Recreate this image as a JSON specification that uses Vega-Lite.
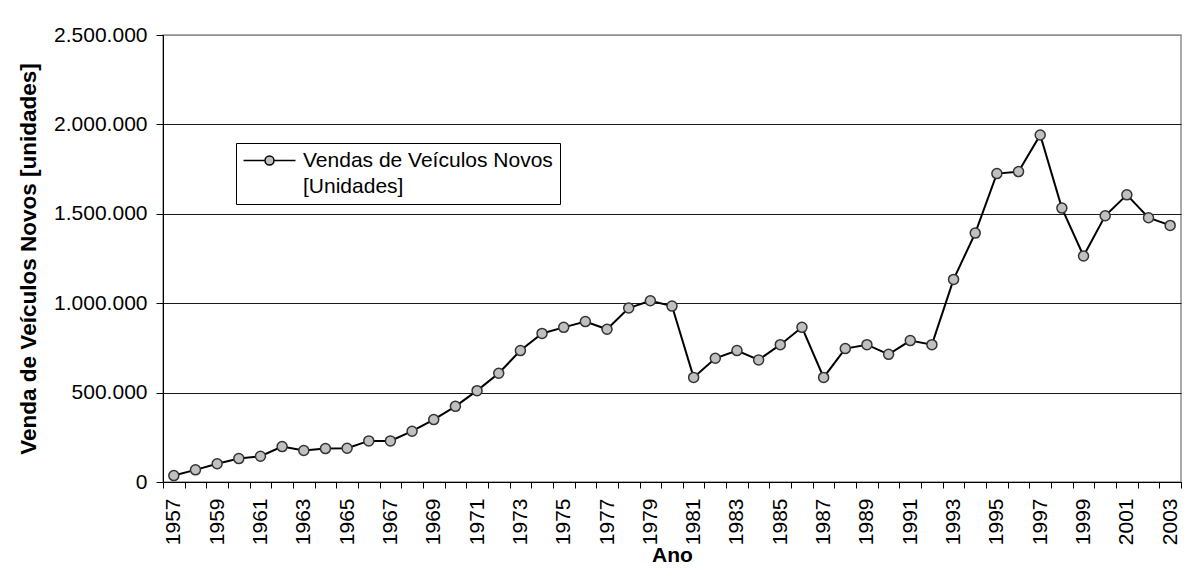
{
  "$schema": "https://vega.github.io/schema/vega-lite/v6.json",
  "width": 1018,
  "height": 447,
  "autosize": {"type": "none"},
  "padding": {"left": 163, "top": 35, "right": 19, "bottom": 88},
  "background": "white",
  "config": {
    "font": "Liberation Sans",
    "view": {"stroke": "#909090", "strokeWidth": 1.5},
    "axis": {"labelColor": "black", "titleColor": "black", "domainColor": "black", "tickColor": "black", "labelFont": "Liberation Sans", "titleFont": "Liberation Sans"}
  },
  "data": {
    "values": [
      {"ano": 1957, "vendas": 36000},
      {"ano": 1958, "vendas": 68000},
      {"ano": 1959, "vendas": 102000},
      {"ano": 1960, "vendas": 131000},
      {"ano": 1961, "vendas": 144000},
      {"ano": 1962, "vendas": 198000},
      {"ano": 1963, "vendas": 176000},
      {"ano": 1964, "vendas": 187000},
      {"ano": 1965, "vendas": 189000},
      {"ano": 1966, "vendas": 230000},
      {"ano": 1967, "vendas": 230000},
      {"ano": 1968, "vendas": 284000},
      {"ano": 1969, "vendas": 349000},
      {"ano": 1970, "vendas": 423000},
      {"ano": 1971, "vendas": 511000},
      {"ano": 1972, "vendas": 608000},
      {"ano": 1973, "vendas": 735000},
      {"ano": 1974, "vendas": 831000},
      {"ano": 1975, "vendas": 865000},
      {"ano": 1976, "vendas": 897000},
      {"ano": 1977, "vendas": 854000},
      {"ano": 1978, "vendas": 973000},
      {"ano": 1979, "vendas": 1014000},
      {"ano": 1980, "vendas": 984000},
      {"ano": 1981, "vendas": 585000},
      {"ano": 1982, "vendas": 692000},
      {"ano": 1983, "vendas": 735000},
      {"ano": 1984, "vendas": 683000},
      {"ano": 1985, "vendas": 768000},
      {"ano": 1986, "vendas": 865000},
      {"ano": 1987, "vendas": 585000},
      {"ano": 1988, "vendas": 746000},
      {"ano": 1989, "vendas": 768000},
      {"ano": 1990, "vendas": 714000},
      {"ano": 1991, "vendas": 791000},
      {"ano": 1992, "vendas": 768000},
      {"ano": 1993, "vendas": 1133000},
      {"ano": 1994, "vendas": 1392000},
      {"ano": 1995, "vendas": 1725000},
      {"ano": 1996, "vendas": 1736000},
      {"ano": 1997, "vendas": 1941000},
      {"ano": 1998, "vendas": 1532000},
      {"ano": 1999, "vendas": 1264000},
      {"ano": 2000, "vendas": 1489000},
      {"ano": 2001, "vendas": 1606000},
      {"ano": 2002, "vendas": 1478000},
      {"ano": 2003, "vendas": 1435000}
    ]
  },
  "encoding": {
    "x": {
      "field": "ano",
      "type": "ordinal",
      "bandPosition": 0.5,
      "scale": {"type": "band", "paddingInner": 0, "paddingOuter": 0},
      "axis": {
        "title": "Ano",
        "titleFontSize": 21,
        "titleFontWeight": "bold",
        "titlePadding": 0,
        "labelAngle": 270,
        "labelFontSize": 21,
        "labelPadding": 10,
        "tickSize": 6,
        "tickBand": "extent",
        "labelOverlap": false,
        "labelExpr": "(datum.value - 1957) % 2 == 0 ? '' + datum.value : ''",
        "grid": false
      }
    },
    "y": {
      "field": "vendas",
      "type": "quantitative",
      "scale": {"domain": [0, 2500000], "nice": false},
      "axis": {
        "title": "Venda de Veículos Novos [unidades]",
        "titleFontSize": 22.5,
        "titleFontWeight": "bold",
        "titlePadding": 13,
        "values": [0, 500000, 1000000, 1500000, 2000000, 2500000],
        "labelExpr": "replace(format(datum.value, ',d'), regexp(',', 'g'), '.')",
        "labelFontSize": 21,
        "labelPadding": 9,
        "tickSize": 7,
        "grid": true,
        "gridColor": {"condition": {"test": "datum.value >= 2500000", "value": "#909090"}, "value": "#1a1a1a"},
        "gridWidth": 1.2
      }
    }
  },
  "layer": [
    {
      "mark": {"type": "line", "strokeWidth": 2},
      "encoding": {
        "stroke": {
          "datum": "Vendas de Veículos Novos [Unidades]",
          "scale": {"range": ["black"]},
          "legend": {
            "title": null,
            "orient": "none",
            "legendX": 73,
            "legendY": 108,
            "strokeColor": "black",
            "fillColor": "white",
            "padding": 7,
            "labelFontSize": 21,
            "labelFont": "Liberation Sans",
            "labelColor": "black",
            "labelLimit": 500,
            "labelOffset": 23,
            "symbolOffset": 16,
            "symbolType": "M-5.2,0H-0.9M0.9,0H5.2M-0.9,0A0.9,0.9,0,1,1,0.9,0A0.9,0.9,0,1,1,-0.9,0Z",
            "symbolSize": 100,
            "symbolFillColor": "#c0c0c0",
            "symbolStrokeColor": "black",
            "symbolStrokeWidth": 1.5,
            "labelExpr": "['Vendas de Veículos Novos', '[Unidades]']",
            "encode": {
              "symbols": {"update": {"fill": {"value": "#c0c0c0"}, "stroke": {"value": "black"}, "strokeWidth": {"value": 1.5}, "opacity": {"value": 1}}},
              "labels": {"update": {"lineHeight": {"value": 26}}}
            }
          }
        }
      }
    },
    {
      "mark": {"type": "point", "filled": true, "fill": "#c0c0c0", "stroke": "#333333", "strokeWidth": 1.5, "size": 100, "opacity": 1, "shape": "circle"}
    }
  ]
}
